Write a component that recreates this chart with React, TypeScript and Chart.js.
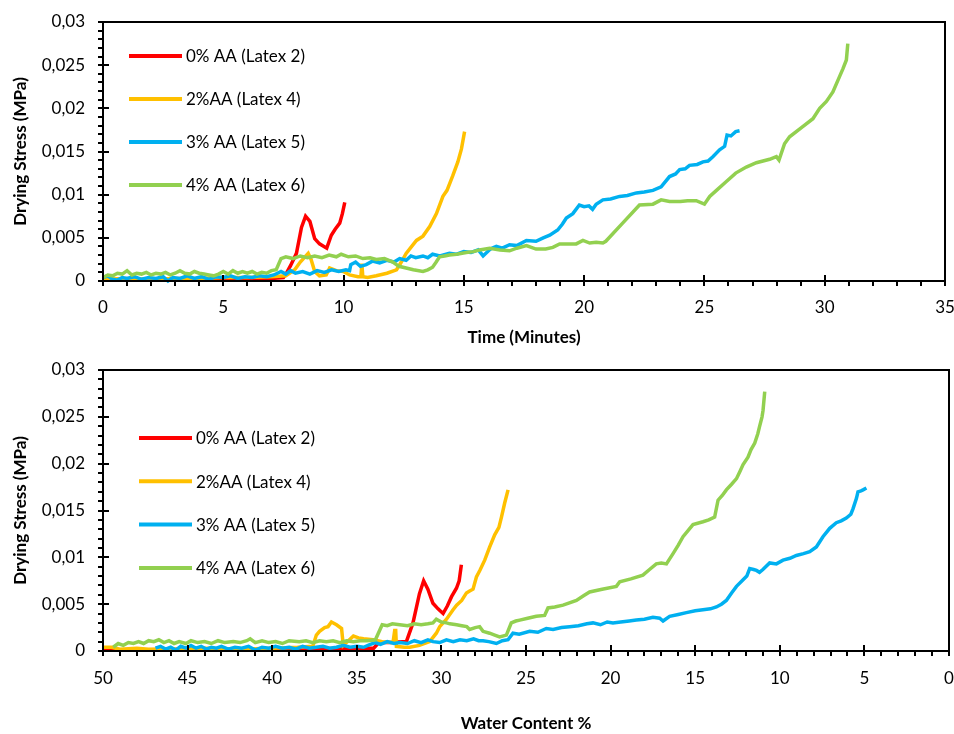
import React, { useEffect, useRef } from 'react';
import { Chart, registerables } from 'chart.js';

Chart.register(...registerables);

// Series names and colours (legend order)
const SERIES_LABELS = ['0% AA (Latex 2)', '2%AA (Latex 4)', '3% AA (Latex 5)', '4% AA (Latex 6)'];
const SERIES_COLORS = ['#FF0000', '#FFC000', '#00B0F0', '#92D050'];

// Axis ticks
const TIME_TICKS = [0, 5, 10, 15, 20, 25, 30, 35];
const WATER_TICKS = [50, 45, 40, 35, 30, 25, 20, 15, 10, 5, 0];
const STRESS_TICKS = [0, 0.005, 0.01, 0.015, 0.02, 0.025, 0.03];

// ---- Drying stress (MPa) vs time (minutes): [time, stress] ----
const timeLatex2: number[][] = [
  [0, 0.0001], [1, 0.0001], [2, 0.0002], [3, 0.0001], [4, 0.0002], [5, 0.0002], [6, 0.0003], [7, 0.0003],
  [7.5, 0.0004], [7.62, 0.0009], [7.8, 0.0018], [8.04, 0.0032], [8.25, 0.0062], [8.42, 0.0075], [8.6, 0.0069],
  [8.8, 0.0049], [9.0, 0.0043], [9.3, 0.0038], [9.49, 0.0053], [9.65, 0.006], [9.84, 0.0067], [9.95, 0.0078],
  [10.05, 0.0091],
];

const timeLatex4: number[][] = [
  [0, 0.0002], [1, 0.0003], [2, 0.0002], [3, 0.0003], [4, 0.0003], [5, 0.0004], [6, 0.0004], [7, 0.0005],
  [7.6, 0.0006], [7.97, 0.0013], [8.2, 0.0022], [8.53, 0.0032], [8.65, 0.0025], [8.8, 0.0011], [9.0, 0.0006],
  [9.28, 0.0007], [9.42, 0.0015], [9.7, 0.0012], [9.99, 0.0011], [10.25, 0.0007], [10.6, 0.0005], [10.72, 0.0005],
  [10.76, 0.002], [10.8, 0.0005], [11.0, 0.0004], [11.36, 0.0006], [11.8, 0.0009], [12.2, 0.0013], [12.4, 0.0022],
  [12.6, 0.0032], [13.03, 0.0047], [13.3, 0.0052], [13.58, 0.0063], [13.86, 0.0078], [14.13, 0.0098],
  [14.3, 0.0105], [14.54, 0.0122], [14.75, 0.0138], [14.9, 0.0153], [15.03, 0.0173],
];

const timeLatex5: number[][] = [
  [0, 0.0004], [0.2, 0.0006], [0.4, 0.0002], [0.6, 0.0001], [0.8, 0.0004], [1.0, 0.0003], [1.3, 0.0005],
  [1.6, 0.0002], [1.9, 0.0004], [2.2, 0.0003], [2.5, 0.0005], [2.7, 0.0], [2.9, 0.0004], [3.2, 0.0003],
  [3.5, 0.0006], [3.8, 0.0003], [4.1, 0.0005], [4.4, 0.0002], [4.7, 0.0005], [5.0, 0.0004], [5.3, 0.0006],
  [5.6, 0.0003], [5.9, 0.0005], [6.2, 0.0004], [6.5, 0.0006], [6.8, 0.0005], [7.1, 0.0007], [7.25, 0.0009],
  [7.4, 0.0011], [7.6, 0.0008], [7.8, 0.0012], [8.0, 0.0009], [8.3, 0.0011], [8.6, 0.0008], [8.9, 0.0012],
  [9.2, 0.001], [9.5, 0.0013], [9.8, 0.0011], [10.1, 0.0013], [10.25, 0.0012], [10.3, 0.0019], [10.5, 0.0022],
  [10.7, 0.0017], [10.94, 0.0019], [11.2, 0.0023], [11.5, 0.0021], [11.8, 0.0024], [12.1, 0.0022],
  [12.33, 0.0026], [12.6, 0.0024], [12.8, 0.0029], [13.0, 0.0027], [13.3, 0.0029], [13.5, 0.0027],
  [13.7, 0.0031], [14.0, 0.0029], [14.4, 0.0032], [14.7, 0.0031], [15.0, 0.0034], [15.3, 0.0033],
  [15.6, 0.0036], [15.8, 0.0029], [16.1, 0.0037], [16.35, 0.004], [16.6, 0.0038], [16.9, 0.0042],
  [17.2, 0.0041], [17.6, 0.0047], [18.0, 0.0046], [18.3, 0.005], [18.57, 0.0053], [18.9, 0.0059],
  [19.1, 0.0066], [19.26, 0.0073], [19.53, 0.0078], [19.8, 0.0088], [20.0, 0.0086], [20.2, 0.0087],
  [20.35, 0.0083], [20.5, 0.0089], [20.78, 0.0094], [21.1, 0.0095], [21.47, 0.0098], [21.8, 0.0099],
  [22.17, 0.0102], [22.5, 0.0103], [22.86, 0.0105], [23.2, 0.0109], [23.55, 0.0121], [23.8, 0.0124],
  [23.97, 0.0129], [24.2, 0.013], [24.38, 0.0134], [24.7, 0.0135], [24.94, 0.0138], [25.15, 0.0139],
  [25.35, 0.0144], [25.63, 0.0152], [25.84, 0.0156], [25.94, 0.0169], [26.1, 0.0168], [26.3, 0.0173],
  [26.46, 0.0174],
];

const timeLatex6: number[][] = [
  [0, 0.0004], [0.2, 0.0007], [0.4, 0.0006], [0.6, 0.0009], [0.8, 0.0008], [1.0, 0.0012], [1.2, 0.0007],
  [1.4, 0.0009], [1.6, 0.0008], [1.8, 0.001], [2.0, 0.0007], [2.2, 0.0009], [2.4, 0.0008], [2.6, 0.001],
  [2.8, 0.0007], [3.0, 0.0009], [3.2, 0.0012], [3.4, 0.0009], [3.6, 0.0008], [3.8, 0.0011], [4.0, 0.0009],
  [4.2, 0.0008], [4.4, 0.0007], [4.6, 0.0006], [4.8, 0.0008], [5.0, 0.0011], [5.2, 0.0008], [5.4, 0.0012],
  [5.6, 0.0009], [5.8, 0.0011], [6.0, 0.0009], [6.2, 0.0011], [6.4, 0.0008], [6.6, 0.001], [6.8, 0.0009],
  [7.0, 0.0012], [7.2, 0.0013], [7.4, 0.0026], [7.6, 0.0028], [7.9, 0.0026], [8.2, 0.0029], [8.5, 0.0027],
  [8.8, 0.0029], [9.1, 0.0027], [9.4, 0.003], [9.7, 0.0028], [9.9, 0.0031], [10.2, 0.0028], [10.5, 0.0029],
  [10.8, 0.0026], [11.1, 0.0027], [11.36, 0.0025], [11.7, 0.0026], [12.05, 0.0022], [12.3, 0.0017],
  [12.6, 0.0015], [12.9, 0.0013], [13.3, 0.0011], [13.5, 0.0013], [13.7, 0.0016], [13.85, 0.0022],
  [13.99, 0.0028], [14.2, 0.0029], [14.4, 0.003], [14.7, 0.0031], [15.1, 0.0033], [15.4, 0.0034],
  [15.65, 0.0036], [16.07, 0.0038], [16.5, 0.0036], [16.9, 0.0035], [17.2, 0.0038], [17.6, 0.0041],
  [18.0, 0.0037], [18.4, 0.0037], [18.7, 0.0039], [18.98, 0.0043], [19.3, 0.0043], [19.67, 0.0043],
  [19.95, 0.0047], [20.23, 0.0044], [20.5, 0.0045], [20.78, 0.0044], [20.9, 0.0046], [21.6, 0.0067],
  [22.3, 0.0088], [22.86, 0.0089], [23.2, 0.0094], [23.55, 0.0092], [24.0, 0.0092], [24.3, 0.0093],
  [24.66, 0.0093], [25.0, 0.0089], [25.22, 0.0098], [25.5, 0.0105], [25.9, 0.0115], [26.3, 0.0125],
  [26.74, 0.0132], [27.16, 0.0137], [27.71, 0.0141], [27.99, 0.0144], [28.1, 0.014], [28.33, 0.0159],
  [28.54, 0.0167], [29.1, 0.0179], [29.51, 0.0188], [29.79, 0.02], [30.07, 0.0208], [30.34, 0.0219],
  [30.62, 0.0237], [30.76, 0.0246], [30.9, 0.0256], [30.96, 0.0275],
];

// ---- Drying stress (MPa) vs water content (%): [water content, stress] ----
const waterLatex2: number[][] = [
  [50, 0.0001], [48, 0.0001], [46, 0.0002], [44, 0.0001], [42, 0.0002], [40, 0.0002], [38, 0.0002],
  [36, 0.0003], [34, 0.0003], [33.7, 0.0009], [33.0, 0.0009], [32.3, 0.001], [32.07, 0.001], [31.68, 0.003],
  [31.3, 0.0061], [31.05, 0.0075], [30.8, 0.0066], [30.5, 0.0051], [30.2, 0.0045], [29.9, 0.004],
  [29.65, 0.0048], [29.4, 0.0058], [29.11, 0.0067], [28.95, 0.0075], [28.82, 0.0092],
];

const waterLatex4: number[][] = [
  [50, 0.0004], [49.5, 0.0004], [49, 0.0002], [48, 0.0003], [47.3, 0.0002], [46, 0.0002], [44, 0.0003],
  [42, 0.0002], [40, 0.0003], [38.5, 0.0004], [37.6, 0.0005], [37.39, 0.0017], [37.2, 0.0021], [36.9, 0.0025],
  [36.7, 0.0026], [36.5, 0.0031], [36.2, 0.0028], [35.9, 0.0024], [35.8, 0.0006], [35.5, 0.0011],
  [35.2, 0.0016], [34.9, 0.0014], [34.6, 0.0013], [34.04, 0.0012], [33.5, 0.001], [32.86, 0.0009],
  [32.76, 0.0022], [32.7, 0.0022], [32.66, 0.0005], [32.2, 0.0004], [31.87, 0.0004], [31.3, 0.0006],
  [30.69, 0.001], [30.3, 0.0019], [30.1, 0.0026], [29.7, 0.0034], [29.31, 0.0044], [29.1, 0.0049],
  [28.8, 0.0054], [28.52, 0.0062], [28.33, 0.0064], [28.13, 0.0066], [27.93, 0.0079], [27.73, 0.0086],
  [27.44, 0.0097], [27.15, 0.0111], [26.85, 0.0124], [26.6, 0.0132], [26.45, 0.0143], [26.26, 0.0158],
  [26.06, 0.0172],
];

const waterLatex5: number[][] = [
  [46.9, 0.0003], [46.6, 0.0005], [46.3, 0.0002], [46.0, 0.0004], [45.7, 0.0001], [45.4, 0.0005],
  [45.1, 0.0003], [44.8, 0.0006], [44.5, 0.0003], [44.2, 0.0005], [43.9, 0.0002], [43.6, 0.0004],
  [43.3, 0.0003], [43.0, 0.0005], [42.6, 0.0002], [42.2, 0.0004], [41.8, 0.0003], [41.4, 0.0005],
  [41.0, 0.0001], [40.6, 0.0004], [40.2, 0.0003], [39.8, 0.0005], [39.4, 0.0003], [39.0, 0.0004],
  [38.6, 0.0002], [38.2, 0.0005], [37.8, 0.0003], [37.4, 0.0004], [37.0, 0.0005], [36.6, 0.0003],
  [36.2, 0.0004], [35.8, 0.0006], [35.4, 0.0004], [35.0, 0.0005], [34.6, 0.0004], [34.2, 0.0007],
  [33.9, 0.0009], [33.6, 0.0007], [33.2, 0.001], [32.8, 0.0008], [32.46, 0.0009], [32.0, 0.0008],
  [31.6, 0.0011], [31.2, 0.0009], [30.8, 0.0012], [30.5, 0.001], [30.1, 0.0009], [29.7, 0.0012],
  [29.3, 0.001], [28.9, 0.0012], [28.5, 0.0011], [28.1, 0.0013], [27.8, 0.0011], [27.54, 0.0011],
  [27.2, 0.001], [26.75, 0.0008], [26.4, 0.0011], [26.06, 0.0012], [25.77, 0.0019], [25.4, 0.0018],
  [24.78, 0.0021], [24.3, 0.002], [23.8, 0.0024], [23.4, 0.0023], [22.9, 0.0025], [22.42, 0.0026],
  [21.9, 0.0027], [21.4, 0.0029], [21.04, 0.003], [20.6, 0.0028], [20.2, 0.0031], [19.86, 0.003],
  [19.4, 0.0031], [18.9, 0.0032], [18.48, 0.0033], [18.0, 0.0034], [17.5, 0.0036], [17.1, 0.0035],
  [16.9, 0.0032], [16.51, 0.0037], [16.0, 0.0039], [15.52, 0.0041], [15.0, 0.0043], [14.54, 0.0044],
  [14.1, 0.0045], [13.75, 0.0047], [13.45, 0.005], [13.16, 0.0054], [12.85, 0.0062], [12.56, 0.0069],
  [12.17, 0.0076], [11.95, 0.008], [11.78, 0.0088], [11.55, 0.0087], [11.38, 0.0086], [11.2, 0.0084],
  [11.0, 0.0087], [10.6, 0.0094], [10.2, 0.0093], [9.81, 0.0097], [9.4, 0.0099], [9.02, 0.0102],
  [8.6, 0.0104], [8.23, 0.0106], [7.84, 0.0111], [7.45, 0.0122], [7.05, 0.0131], [6.66, 0.0137],
  [6.37, 0.0139], [6.07, 0.0142], [5.8, 0.0146], [5.67, 0.0152], [5.47, 0.0163], [5.38, 0.017],
  [5.2, 0.0171], [5.08, 0.0172], [4.88, 0.0174],
];

const waterLatex6: number[][] = [
  [49.4, 0.0004], [49.1, 0.0008], [48.8, 0.0006], [48.5, 0.0009], [48.2, 0.0008], [47.9, 0.001],
  [47.6, 0.0008], [47.3, 0.0011], [47.0, 0.001], [46.7, 0.0012], [46.4, 0.0009], [46.1, 0.0011],
  [45.8, 0.0008], [45.5, 0.001], [45.1, 0.0008], [44.8, 0.0011], [44.4, 0.0009], [44.0, 0.001],
  [43.6, 0.0008], [43.2, 0.0011], [42.8, 0.0009], [42.3, 0.001], [41.9, 0.0009], [41.5, 0.0011],
  [41.3, 0.0013], [41.0, 0.0009], [40.6, 0.0011], [40.2, 0.0009], [39.8, 0.001], [39.4, 0.0008],
  [39.0, 0.0011], [38.4, 0.001], [38.0, 0.0011], [37.6, 0.0009], [37.2, 0.0011], [36.8, 0.001],
  [36.4, 0.0011], [36.0, 0.0009], [35.6, 0.0011], [35.2, 0.001], [34.8, 0.0011], [34.4, 0.0011],
  [33.9, 0.0012], [33.5, 0.0028], [33.2, 0.0027], [32.9, 0.0029], [32.46, 0.0028], [32.0, 0.0027],
  [31.6, 0.0029], [31.2, 0.0028], [30.8, 0.0029], [30.5, 0.003], [30.3, 0.0034], [30.0, 0.0031],
  [29.7, 0.003], [29.5, 0.0029], [29.1, 0.0028], [28.8, 0.0027], [28.5, 0.0026], [28.33, 0.0023],
  [28.0, 0.0025], [27.74, 0.0026], [27.54, 0.0021], [27.15, 0.0019], [26.85, 0.0017], [26.56, 0.0015],
  [26.16, 0.0017], [25.87, 0.003], [25.6, 0.0032], [25.37, 0.0033], [24.9, 0.0035], [24.39, 0.0037],
  [23.9, 0.0038], [23.7, 0.0046], [23.3, 0.0047], [22.81, 0.0049], [22.02, 0.0054], [21.6, 0.0059],
  [21.24, 0.0063], [20.5, 0.0066], [19.66, 0.0069], [19.46, 0.0074], [18.8, 0.0077], [18.09, 0.0081],
  [17.7, 0.0087], [17.3, 0.0093], [17.0, 0.0094], [16.7, 0.0093], [16.31, 0.0104], [16.0, 0.0113],
  [15.72, 0.0122], [15.4, 0.0129], [15.13, 0.0135], [14.54, 0.0138], [14.2, 0.014], [13.85, 0.0143],
  [13.65, 0.0161], [13.4, 0.0166], [13.16, 0.0172], [12.85, 0.0178], [12.56, 0.0184], [12.35, 0.0192],
  [12.17, 0.0199], [11.88, 0.0207], [11.7, 0.0215], [11.48, 0.0222], [11.3, 0.0232], [11.19, 0.024],
  [11.05, 0.025], [10.99, 0.0257], [10.89, 0.0277],
];

const FONT = 'Lato, "Open Sans", sans-serif';
const TEXT = '#000000';

const formatStress = (v: number) => {
  const r = Math.round(v * 1000) / 1000;
  return String(r).replace('.', ',');
};

// Frame, Excel-like tick marks and the in-plot legend
const framePlugin = {
  id: 'frame',
  afterDatasetsDraw(chart: any, _args: any, opts: any) {
    const { ctx, chartArea: a, scales } = chart;
    const xs = scales.x;
    const ys = scales.y;
    ctx.save();
    ctx.strokeStyle = '#000';
    ctx.lineWidth = 2;
    ctx.strokeRect(a.left, a.top, a.right - a.left, a.bottom - a.top);

    ctx.beginPath();
    const xMin = Math.min(xs.min, xs.max);
    const xMax = Math.max(xs.min, xs.max);
    for (let v = xMin; v <= xMax + 1e-9; v += opts.xMinor) {
      const px = Math.round(xs.getPixelForValue(v));
      const major = Math.abs(v / opts.xMajor - Math.round(v / opts.xMajor)) < 1e-6;
      ctx.moveTo(px, a.bottom + 5);
      ctx.lineTo(px, major ? a.bottom - 6 : a.bottom);
    }
    for (let i = 0; i <= Math.round((ys.max - ys.min) / opts.yMinor); i++) {
      const v = ys.min + i * opts.yMinor;
      const py = Math.round(ys.getPixelForValue(v));
      const major = Math.abs(v / opts.yMajor - Math.round(v / opts.yMajor)) < 1e-6;
      ctx.moveTo(a.left - 5, py);
      ctx.lineTo(major ? a.left + 6 : a.left, py);
    }
    ctx.stroke();

    // legend
    ctx.font = `17px ${FONT}`;
    ctx.textBaseline = 'middle';
    ctx.textAlign = 'left';
    chart.data.datasets.forEach((ds: any, i: number) => {
      const y = opts.legendY + i * opts.legendGap;
      ctx.strokeStyle = ds.borderColor;
      ctx.lineWidth = 4;
      ctx.beginPath();
      ctx.moveTo(opts.legendX, y);
      ctx.lineTo(opts.legendX + 53, y);
      ctx.stroke();
      ctx.fillStyle = TEXT;
      ctx.fillText(ds.label, opts.legendX + 57, y + 1);
    });
    ctx.restore();
  },
};

function buildDatasets(series: number[][][]) {
  return series.map((pts, i) => ({
    label: SERIES_LABELS[i],
    data: pts.map(([x, y]) => ({ x, y })),
    borderColor: SERIES_COLORS[i],
    backgroundColor: SERIES_COLORS[i],
    borderWidth: 3.5,
    pointRadius: 0,
    tension: 0,
    fill: false,
    order: series.length - i,
    clip: 4,
  }));
}

type PanelProps = {
  series: number[][][];
  xTitle: string;
  xMin: number;
  xMax: number;
  xTicks: number[];
  reverse: boolean;
  width: number;
  height: number;
  padding: { top: number; right: number; left: number; bottom: number };
  yAxisWidth: number;
  xAxisHeight: number;
  xTitlePad: number;
  xTickPad: number;
  legend: { x: number; y: number; gap: number };
};

function Panel(p: PanelProps) {
  const ref = useRef<HTMLCanvasElement | null>(null);
  useEffect(() => {
    if (!ref.current) return;
    const chart = new Chart(ref.current, {
      type: 'line',
      data: { datasets: buildDatasets(p.series) as any },
      options: {
        animation: false,
        responsive: false,
        devicePixelRatio: 1,
        layout: { padding: p.padding },
        plugins: {
          legend: { display: false },
          tooltip: { enabled: false },
          frame: {
            xMinor: 1,
            xMajor: 5,
            yMinor: 0.001,
            yMajor: 0.005,
            legendX: p.legend.x,
            legendY: p.legend.y,
            legendGap: p.legend.gap,
          },
        } as any,
        scales: {
          x: {
            type: 'linear',
            min: p.xMin,
            max: p.xMax,
            reverse: p.reverse,
            grid: { display: false, drawTicks: false },
            border: { display: false },
            afterBuildTicks: (axis: any) => {
              axis.ticks = p.xTicks.map((v) => ({ value: v }));
            },
            afterFit: (axis: any) => {
              axis.height = p.xAxisHeight;
              axis.paddingLeft = 0;
              axis.paddingRight = 0;
            },
            ticks: {
              autoSkip: false,
              maxRotation: 0,
              padding: p.xTickPad,
              color: TEXT,
              font: { family: FONT, size: 17 },
              callback: (v: any) => String(v),
            },
            title: {
              display: true,
              text: p.xTitle,
              color: TEXT,
              font: { family: FONT, size: 17, weight: 'bold' },
              padding: { top: 0, bottom: p.xTitlePad },
            },
          },
          y: {
            type: 'linear',
            min: 0,
            max: 0.03,
            grid: { display: false, drawTicks: false },
            border: { display: false },
            afterBuildTicks: (axis: any) => {
              axis.ticks = STRESS_TICKS.map((v) => ({ value: v }));
            },
            afterFit: (axis: any) => {
              axis.width = p.yAxisWidth;
              axis.paddingTop = 0;
              axis.paddingBottom = 0;
            },
            ticks: {
              padding: 18,
              color: TEXT,
              font: { family: FONT, size: 17 },
              callback: (v: any) => formatStress(Number(v)),
            },
            title: {
              display: true,
              text: 'Drying Stress (MPa)',
              color: TEXT,
              font: { family: FONT, size: 17, weight: 'bold' },
              padding: { top: 10, bottom: 0 },
            },
          },
        },
      },
      plugins: [framePlugin],
    });
    return () => chart.destroy();
  }, []);
  return <canvas ref={ref} width={p.width} height={p.height} style={{ display: 'block', width: p.width, height: p.height }} />;
}

export default function App() {
  return (
    <div style={{ position: 'absolute', left: 0, top: 0, width: 954, height: 734, background: '#fff' }}>
      <div style={{ position: 'absolute', left: 0, top: 0 }}>
        <Panel
          series={[timeLatex2, timeLatex4, timeLatex5, timeLatex6]}
          xTitle="Time (Minutes)"
          xMin={0}
          xMax={35}
          xTicks={TIME_TICKS}
          reverse={false}
          width={954}
          height={350}
          padding={{ top: 22, right: 9, left: 0, bottom: 0 }}
          yAxisWidth={103}
          xAxisHeight={69}
          xTitlePad={2}
          xTickPad={16}
          legend={{ x: 129, y: 56, gap: 43 }}
        />
      </div>
      <div style={{ position: 'absolute', left: 0, top: 350 }}>
        <Panel
          series={[waterLatex2, waterLatex4, waterLatex5, waterLatex6]}
          xTitle="Water Content %"
          xMin={0}
          xMax={50}
          xTicks={WATER_TICKS}
          reverse={true}
          width={954}
          height={384}
          padding={{ top: 20, right: 5, left: 0, bottom: 0 }}
          yAxisWidth={103}
          xAxisHeight={83}
          xTitlePad={0}
          xTickPad={17}
          legend={{ x: 139, y: 88, gap: 43.3 }}
        />
      </div>
    </div>
  );
}
